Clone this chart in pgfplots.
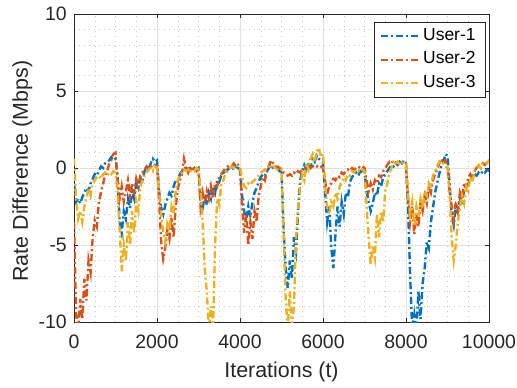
\documentclass[border=0pt]{standalone}
\usepackage{pgfplots}
\pgfplotsset{compat=1.18}
\usepackage{pgfplotstable}
\usepackage{fontspec}
\setmainfont{Liberation Sans}
\definecolor{mblue}{rgb}{0,0.447,0.741}
\definecolor{morange}{rgb}{0.85,0.325,0.098}
\definecolor{myellow}{rgb}{0.929,0.694,0.125}

\pgfplotstableread[row sep=\\]{
x y\\
0 -1.0\\ 50 -2.2\\ 100 -2.0\\ 150 -2.3\\ 200 -1.9\\ 250 -1.6\\ 300 -1.3\\ 350 -1.5\\ 400 -1.0\\ 450 -0.7\\ 500 -0.4\\ 550 -0.5\\ 600 -0.2\\ 650 0.1\\ 700 0.0\\ 750 0.3\\ 800 0.4\\ 850 0.5\\ 900 0.7\\ 950 0.5\\ 1000 0.6\\
1050 -0.5\\ 1100 -3.5\\ 1150 -4.2\\ 1200 -2.8\\ 1250 -3.3\\ 1300 -2.0\\ 1350 -2.6\\ 1400 -1.5\\ 1450 -2.0\\ 1500 -1.0\\ 1550 -1.3\\ 1600 -0.6\\ 1650 -0.8\\ 1700 -0.2\\ 1750 0.1\\ 1800 -0.1\\ 1850 0.3\\ 1900 0.6\\ 1950 0.4\\ 2000 0.5\\
2050 -1.5\\ 2100 -2.6\\ 2150 -3.0\\ 2200 -2.4\\ 2250 -2.0\\ 2300 -1.6\\ 2350 -1.8\\ 2400 -1.2\\ 2450 -0.8\\ 2500 -0.9\\ 2550 -0.4\\ 2600 -0.2\\ 2650 -0.1\\ 2700 0.1\\ 2750 -0.1\\ 2800 0.0\\ 2850 -0.2\\ 2900 0.1\\ 2950 -0.1\\ 3000 0.0\\
3050 -2.2\\ 3100 -2.6\\ 3150 -1.8\\ 3200 -2.4\\ 3250 -1.6\\ 3300 -2.0\\ 3350 -1.2\\ 3400 -1.6\\ 3450 -0.8\\ 3500 -0.9\\ 3550 -0.5\\ 3600 -0.3\\ 3650 -0.4\\ 3700 -0.1\\ 3750 0.0\\ 3800 0.1\\ 3850 -0.1\\ 3900 0.1\\ 3950 0.0\\ 4000 -0.1\\
4050 -1.8\\ 4100 -2.8\\ 4150 -3.4\\ 4200 -2.5\\ 4250 -3.2\\ 4300 -2.2\\ 4350 -1.6\\ 4400 -1.3\\ 4450 -0.9\\ 4500 -0.6\\ 4550 -0.4\\ 4600 -0.5\\ 4650 -0.2\\ 4700 0.0\\ 4750 0.2\\ 4800 0.0\\ 4850 -0.1\\ 4900 0.0\\ 4950 -0.2\\ 5000 -0.1\\
5050 -4.0\\ 5100 -6.5\\ 5150 -7.8\\ 5200 -6.0\\ 5250 -7.2\\ 5300 -4.5\\ 5350 -5.4\\ 5400 -2.8\\ 5450 -0.8\\ 5500 -0.2\\ 5550 0.2\\ 5600 -0.1\\ 5650 0.4\\ 5700 0.1\\ 5750 0.6\\ 5800 0.4\\ 5850 0.8\\ 5900 0.6\\ 5950 0.5\\ 6000 0.4\\
6050 -1.5\\ 6100 -3.5\\ 6150 -2.5\\ 6200 -5.2\\ 6250 -6.5\\ 6300 -4.3\\ 6350 -2.5\\ 6400 -3.8\\ 6450 -2.2\\ 6500 -3.0\\ 6550 -1.6\\ 6600 -1.9\\ 6650 -0.9\\ 6700 -0.6\\ 6750 -0.4\\ 6800 -0.3\\ 6850 -0.5\\ 6900 -0.2\\ 6950 -0.3\\ 7000 -0.2\\
7050 -1.5\\ 7100 -2.2\\ 7150 -2.8\\ 7200 -2.3\\ 7250 -1.6\\ 7300 -1.8\\ 7350 -1.0\\ 7400 -1.2\\ 7450 -0.6\\ 7500 -0.4\\ 7550 -0.2\\ 7600 0.0\\ 7650 0.2\\ 7700 0.1\\ 7750 0.3\\ 7800 0.2\\ 7850 0.4\\ 7900 0.3\\ 7950 0.5\\ 8000 0.3\\
8050 -2.5\\ 8100 -7.0\\ 8150 -10.5\\ 8200 -9.5\\ 8250 -10.5\\ 8300 -8.0\\ 8350 -9.8\\ 8400 -7.5\\ 8450 -6.5\\ 8500 -4.8\\ 8550 -5.2\\ 8600 -3.5\\ 8650 -2.6\\ 8700 -1.6\\ 8750 -1.0\\ 8800 -0.4\\ 8850 0.1\\ 8900 0.4\\ 8950 0.9\\ 9000 0.8\\
9050 -1.0\\ 9100 -3.0\\ 9150 -3.7\\ 9200 -2.5\\ 9250 -2.9\\ 9300 -2.0\\ 9350 -2.4\\ 9400 -1.4\\ 9450 -1.0\\ 9500 -1.1\\ 9550 -0.7\\ 9600 -0.6\\ 9650 -0.4\\ 9700 -0.5\\ 9750 -0.3\\ 9800 -0.4\\ 9850 -0.2\\ 9900 -0.3\\ 9950 -0.1\\ 10000 -0.2\\
}\userone

\pgfplotstableread[row sep=\\]{
x y\\
0 -3.5\\ 50 -9.5\\ 100 -10.5\\ 150 -8.5\\ 200 -9.8\\ 250 -7.2\\ 300 -8.6\\ 350 -6.0\\ 400 -6.8\\ 450 -4.5\\ 500 -3.4\\ 550 -3.8\\ 600 -2.2\\ 650 -1.6\\ 700 -1.0\\ 750 -0.5\\ 800 -0.2\\ 850 0.3\\ 900 0.5\\ 950 0.9\\ 1000 1.0\\
1050 -0.8\\ 1100 -2.0\\ 1150 -1.2\\ 1200 -2.2\\ 1250 -1.5\\ 1300 -0.8\\ 1350 -1.8\\ 1400 -1.0\\ 1450 -1.6\\ 1500 -0.7\\ 1550 -1.2\\ 1600 -0.5\\ 1650 -0.3\\ 1700 -0.1\\ 1750 0.1\\ 1800 -0.1\\ 1850 0.1\\ 1900 0.0\\ 1950 0.2\\ 2000 0.1\\
2050 -2.0\\ 2100 -4.8\\ 2150 -5.9\\ 2200 -5.2\\ 2250 -4.0\\ 2300 -4.6\\ 2350 -3.2\\ 2400 -4.5\\ 2450 -2.5\\ 2500 -1.4\\ 2550 -0.8\\ 2600 -0.4\\ 2650 0.6\\ 2700 0.0\\ 2750 -0.3\\ 2800 0.1\\ 2850 -0.2\\ 2900 0.0\\ 2950 -0.2\\ 3000 0.0\\
3050 -2.5\\ 3100 -1.6\\ 3150 -2.3\\ 3200 -1.5\\ 3250 -2.0\\ 3300 -1.2\\ 3350 -2.0\\ 3400 -1.0\\ 3450 -1.2\\ 3500 -0.6\\ 3550 -0.4\\ 3600 -0.2\\ 3650 0.0\\ 3700 0.1\\ 3750 0.2\\ 3800 0.1\\ 3850 0.3\\ 3900 0.1\\ 3950 0.2\\ 4000 0.0\\
4050 -2.5\\ 4100 -4.2\\ 4150 -3.0\\ 4200 -5.0\\ 4250 -3.5\\ 4300 -4.6\\ 4350 -2.8\\ 4400 -3.5\\ 4450 -1.8\\ 4500 -1.2\\ 4550 -0.6\\ 4600 -0.8\\ 4650 -0.2\\ 4700 0.2\\ 4750 0.5\\ 4800 0.3\\ 4850 0.1\\ 4900 0.1\\ 4950 0.0\\ 5000 -0.1\\
5050 -0.3\\ 5100 -0.4\\ 5150 -0.5\\ 5200 -0.4\\ 5250 -0.5\\ 5300 -0.3\\ 5350 -0.4\\ 5400 -0.2\\ 5450 -0.3\\ 5500 -0.1\\ 5550 -0.1\\ 5600 0.0\\ 5650 0.1\\ 5700 0.0\\ 5750 0.1\\ 5800 0.2\\ 5850 0.1\\ 5900 0.2\\ 5950 0.1\\ 6000 0.0\\
6050 -0.8\\ 6100 -1.7\\ 6150 -1.2\\ 6200 -1.0\\ 6250 -0.7\\ 6300 -0.8\\ 6350 -0.5\\ 6400 -0.6\\ 6450 -0.3\\ 6500 -0.4\\ 6550 -0.2\\ 6600 -0.1\\ 6650 -0.2\\ 6700 0.0\\ 6750 -0.1\\ 6800 0.0\\ 6850 0.1\\ 6900 0.0\\ 6950 0.1\\ 7000 0.0\\
7050 -0.8\\ 7100 -1.5\\ 7150 -1.0\\ 7200 -1.4\\ 7250 -0.8\\ 7300 -1.0\\ 7350 -0.5\\ 7400 -0.6\\ 7450 -0.2\\ 7500 0.0\\ 7550 0.2\\ 7600 0.4\\ 7650 0.3\\ 7700 0.5\\ 7750 0.3\\ 7800 0.4\\ 7850 0.2\\ 7900 0.3\\ 7950 0.2\\ 8000 0.1\\
8050 -2.0\\ 8100 -3.5\\ 8150 -2.5\\ 8200 -4.3\\ 8250 -3.0\\ 8300 -3.8\\ 8350 -2.2\\ 8400 -2.8\\ 8450 -1.8\\ 8500 -2.3\\ 8550 -1.2\\ 8600 -1.6\\ 8650 -0.8\\ 8700 -0.4\\ 8750 -0.1\\ 8800 0.3\\ 8850 0.6\\ 8900 0.3\\ 8950 0.5\\ 9000 0.2\\
9050 -1.5\\ 9100 -2.5\\ 9150 -3.4\\ 9200 -2.2\\ 9250 -2.8\\ 9300 -1.6\\ 9350 -2.0\\ 9400 -1.0\\ 9450 -1.3\\ 9500 -0.6\\ 9550 -0.4\\ 9600 -0.7\\ 9650 -0.2\\ 9700 0.0\\ 9750 0.2\\ 9800 0.0\\ 9850 0.3\\ 9900 0.2\\ 9950 0.4\\ 10000 0.5\\
}\usertwo

\pgfplotstableread[row sep=\\]{
x y\\
0 0.6\\ 50 -2.0\\ 100 -3.3\\ 150 -2.8\\ 200 -3.5\\ 250 -2.5\\ 300 -2.0\\ 350 -1.3\\ 400 -1.8\\ 450 -1.0\\ 500 -0.8\\ 550 -0.6\\ 600 -0.5\\ 650 -0.7\\ 700 -0.4\\ 750 -0.3\\ 800 -0.5\\ 850 -0.3\\ 900 -0.4\\ 950 -0.2\\ 1000 -0.3\\
1050 -1.5\\ 1100 -4.0\\ 1150 -6.7\\ 1200 -5.0\\ 1250 -6.0\\ 1300 -3.5\\ 1350 -5.0\\ 1400 -2.8\\ 1450 -4.2\\ 1500 -2.2\\ 1550 -2.8\\ 1600 -1.2\\ 1650 -0.8\\ 1700 -0.5\\ 1750 -0.3\\ 1800 -0.1\\ 1850 0.0\\ 1900 -0.2\\ 1950 0.1\\ 2000 0.0\\
2050 -1.5\\ 2100 -3.0\\ 2150 -4.2\\ 2200 -4.8\\ 2250 -3.6\\ 2300 -4.0\\ 2350 -2.5\\ 2400 -3.0\\ 2450 -1.5\\ 2500 -0.8\\ 2550 -0.5\\ 2600 -0.3\\ 2650 -0.1\\ 2700 -0.2\\ 2750 -0.1\\ 2800 -0.3\\ 2850 -0.1\\ 2900 -0.2\\ 2950 0.0\\ 3000 -0.1\\
3050 -1.5\\ 3100 -3.5\\ 3150 -6.5\\ 3200 -8.0\\ 3250 -10.5\\ 3300 -9.0\\ 3350 -10.5\\ 3400 -5.0\\ 3450 -2.0\\ 3500 -2.4\\ 3550 -1.0\\ 3600 -0.8\\ 3650 -0.3\\ 3700 -0.2\\ 3750 0.0\\ 3800 0.1\\ 3850 0.0\\ 3900 0.2\\ 3950 0.1\\ 4000 0.0\\
4050 -0.6\\ 4100 -1.2\\ 4150 -1.3\\ 4200 -1.0\\ 4250 -1.1\\ 4300 -0.9\\ 4350 -0.8\\ 4400 -0.6\\ 4450 -0.5\\ 4500 -0.3\\ 4550 -0.2\\ 4600 -0.1\\ 4650 0.0\\ 4700 0.1\\ 4750 0.0\\ 4800 0.1\\ 4850 0.0\\ 4900 -0.1\\ 4950 -0.2\\ 5000 -0.1\\
5050 -4.0\\ 5100 -8.5\\ 5150 -10.5\\ 5200 -8.0\\ 5250 -10.2\\ 5300 -9.0\\ 5350 -4.5\\ 5400 -2.6\\ 5450 -1.2\\ 5500 -0.4\\ 5550 -0.8\\ 5600 0.3\\ 5650 -0.1\\ 5700 0.6\\ 5750 0.9\\ 5800 0.4\\ 5850 1.1\\ 5900 1.3\\ 5950 0.7\\ 6000 0.9\\
6050 -1.0\\ 6100 -2.6\\ 6150 -3.0\\ 6200 -2.2\\ 6250 -2.5\\ 6300 -1.6\\ 6350 -2.0\\ 6400 -1.2\\ 6450 -1.0\\ 6500 -0.6\\ 6550 -0.8\\ 6600 -0.4\\ 6650 -0.5\\ 6700 -0.2\\ 6750 -0.3\\ 6800 -0.1\\ 6850 -0.2\\ 6900 0.0\\ 6950 -0.1\\ 7000 -0.2\\
7050 -2.5\\ 7100 -4.5\\ 7150 -6.3\\ 7200 -5.0\\ 7250 -5.8\\ 7300 -3.0\\ 7350 -4.5\\ 7400 -2.8\\ 7450 -3.5\\ 7500 -1.5\\ 7550 -1.0\\ 7600 -0.3\\ 7650 0.0\\ 7700 0.5\\ 7750 0.3\\ 7800 0.4\\ 7850 0.2\\ 7900 0.3\\ 7950 0.4\\ 8000 0.3\\
8050 -1.8\\ 8100 -3.0\\ 8150 -2.2\\ 8200 -3.8\\ 8250 -2.5\\ 8300 -3.2\\ 8350 -2.0\\ 8400 -2.6\\ 8450 -1.5\\ 8500 -1.8\\ 8550 -1.0\\ 8600 -1.3\\ 8650 -0.5\\ 8700 -0.2\\ 8750 0.1\\ 8800 0.4\\ 8850 0.2\\ 8900 0.3\\ 8950 0.1\\ 9000 0.0\\
9050 -1.5\\ 9100 -4.5\\ 9150 -6.0\\ 9200 -5.0\\ 9250 -3.5\\ 9300 -2.6\\ 9350 -1.8\\ 9400 -2.3\\ 9450 -1.2\\ 9500 -1.5\\ 9550 -0.6\\ 9600 -0.9\\ 9650 -0.2\\ 9700 0.0\\ 9750 0.2\\ 9800 0.0\\ 9850 0.3\\ 9900 0.4\\ 9950 0.3\\ 10000 0.5\\
}\userthree

\tikzset{mline/.style={line width=2.4bp, dash pattern=on 7bp off 3bp on 2bp off 3bp}}

\begin{document}
\begin{tikzpicture}
\useasboundingbox (-74bp,-66bp) rectangle (443bp,322bp);
\begin{axis}[
  at={(0,0)}, anchor=south west,
  scale only axis, width=415bp, height=308bp,
  xmin=0, xmax=10000, ymin=-10, ymax=10,
  xtick={0,2000,4000,6000,8000,10000},
  ytick={-10,-5,0,5,10},
  scaled x ticks=false, scaled y ticks=false,
  minor x tick num=3, minor y tick num=4,
  tick align=inside, major tick length=4bp, minor tick length=0bp,
  xtick pos=both, ytick pos=both,
  grid=both,
  major grid style={color=black!12, line width=0.5bp},
  minor grid style={color=black!22, line width=0.5bp, dash pattern=on 1bp off 4bp},
  axis line style={color=black!85, line width=0.6bp},
  every tick/.style={color=black!85, line width=0.6bp},
  /pgf/number format/assume math mode=true,
  /pgf/number format/1000 sep={},
  tick label style={font=\fontsize{19.5}{23}\selectfont, color=black!85},
  xticklabel style={inner sep=0pt, anchor=north, yshift=-13bp},
  yticklabel style={inner sep=0pt, anchor=east, xshift=-7bp},
  xlabel={Iterations (t)},
  ylabel={Rate Difference (Mbps)},
  every axis x label/.style={at={(axis description cs:0.5,-0.128)}, anchor=north, inner sep=0pt, font=\fontsize{21.5}{25}\selectfont, color=black!85},
  every axis y label/.style={at={(axis description cs:-0.1,0.49)}, rotate=90, anchor=south, inner sep=0pt, font=\fontsize{21.5}{25}\selectfont, color=black!85},
  legend style={at={(1,1)}, anchor=north east, xshift=-4bp, yshift=-8bp,
    draw=black!85, line width=0.5bp, fill=white,
    font=\fontsize{17.5}{21}\selectfont,
    inner xsep=6bp, inner ysep=2.5bp, row sep=0bp,
    nodes={text height=12.5bp, text depth=4.5bp, inner sep=3.2bp}},
  legend cell align=left,
  legend image code/.code={\draw[#1, line width=2bp] (0bp,0bp) -- (38bp,0bp);},
]
\addplot[mblue, mline] table[x=x,y=y] {\userone};
\addlegendentry{User-1}
\addplot[morange, mline] table[x=x,y=y] {\usertwo};
\addlegendentry{User-2}
\addplot[myellow, mline] table[x=x,y=y] {\userthree};
\addlegendentry{User-3}
\end{axis}
\end{tikzpicture}
\end{document}
